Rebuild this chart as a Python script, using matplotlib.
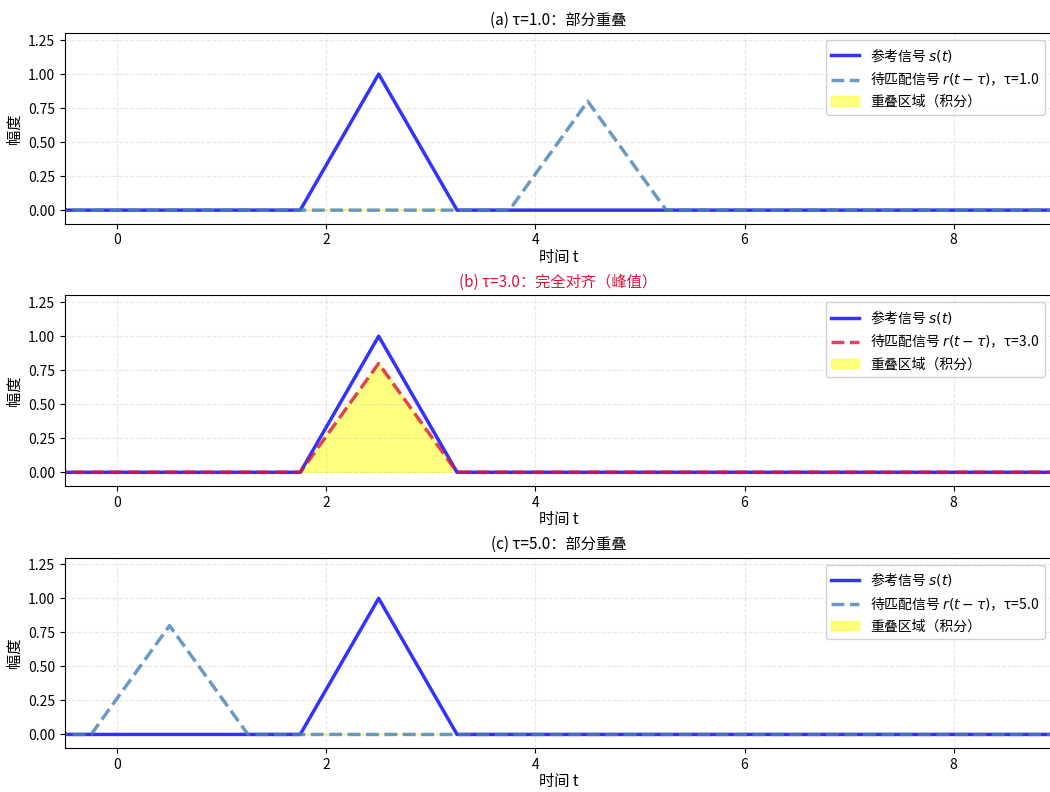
import numpy as np
import matplotlib
matplotlib.use("Agg")
import matplotlib.pyplot as plt

plt.rcParams['font.family'] = ['Noto Sans CJK SC', 'DejaVu Sans']
plt.rcParams['axes.unicode_minus'] = False

# reference pulse s(t): triangle vertices
s_t = [-6.0, 1.75, 2.5, 3.25, 16.0]
s_y = [0.0, 0.0, 1.0, 0.0, 0.0]

# received pulse r(t) before shifting
r_t = [-6.0, 4.75, 5.5, 6.25, 16.0]
r_y = [0.0, 0.0, 0.8, 0.0, 0.0]

taus = [1.0, 3.0, 5.0]
panel_titles = ['(a) τ=1.0：部分重叠', '(b) τ=3.0：完全对齐（峰值）', '(c) τ=5.0：部分重叠']
title_colors = ['black', 'crimson', 'black']
r_colors = ['steelblue', 'crimson', 'steelblue']

fig = plt.figure(figsize=(10.5, 7.92), dpi=100)
bottoms = [0.7175, 0.3865, 0.0555]

t = np.linspace(-6.0, 16.0, 8001)
s_dense = np.interp(t, s_t, s_y)

for i, tau in enumerate(taus):
    ax = fig.add_axes([0.0619, bottoms[i], 0.94, 0.2405])
    shifted_t = [x - tau for x in r_t]
    r_dense = np.interp(t, shifted_t, r_y)
    overlap = np.minimum(s_dense, r_dense)

    ax.fill_between(t, 0, overlap, color='yellow', alpha=0.5, label='重叠区域（积分）')
    ax.plot(s_t, s_y, color='blue', lw=2.5, alpha=0.8, label='参考信号 $s(t)$')
    ax.plot(shifted_t, r_y, color=r_colors[i], ls='--', lw=2.5, alpha=0.8,
            label=f'待匹配信号 $r(t-\\tau)$，τ={tau:.1f}')

    handles, labels = ax.get_legend_handles_labels()
    order = [1, 2, 0]
    ax.legend([handles[k] for k in order], [labels[k] for k in order],
              loc='upper right', fontsize=10, framealpha=0.9)

    ax.set_xlim(-0.5, 8.94)
    ax.set_ylim(-0.1, 1.3)
    ax.set_yticks([0.0, 0.25, 0.5, 0.75, 1.0, 1.25])
    ax.set_title(panel_titles[i], fontsize=11, color=title_colors[i])
    ax.set_xlabel('时间 t', fontsize=11, labelpad=1)
    ax.set_ylabel('幅度', fontsize=11)
    ax.grid(True, linestyle='--', alpha=0.3)
    ax.tick_params(labelsize=10)

fig.savefig('out.png', dpi=100)
